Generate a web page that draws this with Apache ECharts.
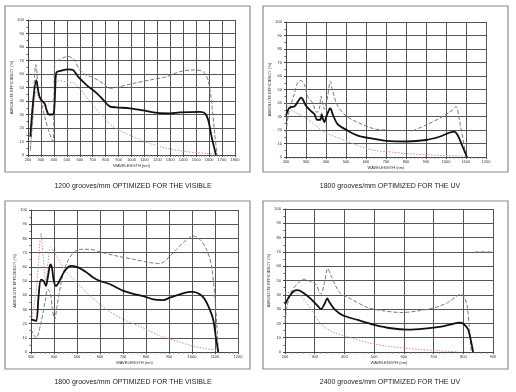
<!DOCTYPE html>
<html><head><meta charset="utf-8">
<script src="https://cdn.jsdelivr.net/npm/echarts@6/dist/echarts.min.js"></script>
<style>html,body{margin:0;padding:0;background:#fff}#c{width:516px;height:392px}</style>
</head><body><div id="c"></div>
<script>
// ---- titles ----
const titles = [
  "1200 grooves/mm OPTIMIZED FOR THE VISIBLE",
  "1800 grooves/mm OPTIMIZED FOR THE UV",
  "1800 grooves/mm OPTIMIZED FOR THE VISIBLE",
  "2400 grooves/mm OPTIMIZED FOR THE UV"
];
const yName = "ABSOLUTE EFFICIENCY (%)";
const xNames = ["WAVELENGTH [nm]", "WAVELENGTH (nm)", "WAVELENGTH (nm)", "WAVELENGTH (nm)"];
const xRanges = [[200, 1800], [200, 1200], [300, 1200], [200, 900]];

// ---- panel 1: 1200 g/mm visible ----
const p1Total = [[218,13.5],[240,40],[264,55.5],[278,48],[290,43],[310,40],[329,38],[345,33],[362,30],[388,30],[401,32],[410,48],[419,61],[458,62.5],[509,63.5],[548,63],[587,58],[651,52],[728,46],[780,41],[831,36],[883,35.3],[988,34.6],[1089,33],[1218,31],[1297,30.9],[1373,31.6],[1529,32],[1568,30.9],[1593,26],[1619,13.6],[1653,0]];
const p1Dashed = [[218,4],[235,25],[248,55],[260,67],[270,60],[277,49],[300,40],[330,28],[367,16],[393,10],[400,30],[406,68],[432,70],[509,73],[540,72],[561,70],[600,63],[651,59],[702,57.5],[780,53],[831,49.4],[883,50],[1012,53],[1141,55.5],[1270,58],[1373,61.7],[1476,63],[1553,61.7],[1592,55.5],[1617,40.7],[1643,16],[1661,0]];
const p1Dotted = [[218,3],[240,30],[262,47],[285,42],[330,36],[360,38],[385,40],[400,42],[415,53],[432,55],[509,54],[561,53],[651,43],[754,31],[857,21],[1012,13.6],[1141,8.6],[1270,5],[1424,2.5],[1579,1.2],[1643,0.7]];

// ---- panel 2: 1800 g/mm UV ----
const p2Total = [[200,30.5],[212,35.5],[225,37],[242,37.4],[267,42.8],[275,44],[283,43],[300,38],[325,34],[342,31.8],[355,27.6],[372,27.6],[378,31.8],[385,28],[392,25.7],[400,29.3],[417,35.5],[422,36],[433,31.8],[458,24.4],[508,19.6],[558,15.9],[642,13.4],[700,11.9],[808,11.5],[900,12.6],[967,15],[1040,18.8],[1058,16.3],[1083,7.6],[1105,0]];
const p2DashedA = [[200,18],[210,30],[217,35],[240,46],[258,55],[275,56.7],[292,53.8],[308,45],[333,40],[355,33],[367,36],[375,45],[383,40],[392,35.5],[408,45],[422,56],[433,49],[458,38],[500,30.5],[558,25.7],[642,20.8],[700,20]];
const p2DashedB = [[833,19.3],[900,23.7],[967,28.6],[1033,34.8],[1050,37.3],[1067,27.4],[1092,7.6],[1103,0]];
const p2Dotted = [[200,40],[217,36],[260,32],[308,28],[350,23],[392,18.3],[475,13.4],[558,8.6],[642,4.9],[725,3.7],[808,2.4],[892,1.7],[975,1.2],[1058,0.7],[1100,0.5]];

// ---- panel 3: 1800 g/mm visible ----
const p3Total = [[300,23],[312,22.5],[323,21.8],[333,39.4],[343,51],[355,50],[365,46.5],[374,53.5],[384,61.7],[391,59.4],[398,51.2],[408,46.5],[420,48.8],[442,55.9],[463,60],[478,60.6],[507,59.4],[543,55.9],[572,52.3],[601,50],[644,47.7],[702,43],[745,41],[788,39.4],[832,37],[875,36.6],[904,38.3],[947,40.6],[991,42.3],[1005,42.3],[1034,40.6],[1056,37],[1077,30],[1092,23],[1103,11.3],[1114,0]];
const p3Dashed = [[300,16],[312,12],[323,10],[340,18],[362,36],[372,44],[384,42],[394,29],[403,23],[413,32],[434,51],[456,63],[485,70],[514,72.3],[557,72.3],[601,70.4],[673,67.6],[745,65.3],[817,63],[861,62.2],[890,65.3],[933,72.3],[969,78],[1005,81.7],[1034,79.3],[1063,72.3],[1085,60.6],[1099,39.4],[1109,16],[1114,0]];
const p3Dotted = [[300,20.7],[319,39],[333,63],[343,83.6],[355,63],[365,49],[374,63],[384,73.5],[398,71],[427,63],[456,56],[499,49],[557,39.4],[629,30],[702,23],[788,17],[861,11.3],[933,7.7],[1005,4.2],[1063,2.3],[1106,1.4]];

// ---- panel 4: 2400 g/mm UV ----
const p4Total = [[200,33.4],[215,39],[231,42.8],[243,43.2],[260,41.6],[288,37],[310,32.2],[321,30],[333,33.6],[342,37.4],[349,35],[366,30],[394,25.7],[445,22.4],[501,19],[557,16.6],[613,15.7],[670,16.4],[726,17.8],[760,19.4],[788,20.6],[799,19.9],[816,15.9],[827,6.5],[833,0]];
const p4Dashed = [[200,20.6],[207,32],[220,41.6],[243,48],[265,51],[288,49],[304,47.4],[316,41.6],[321,40.4],[333,48.6],[344,58.4],[355,53.3],[384,41.6],[423,37],[479,31],[535,28.7],[591,27.6],[647,28.7],[703,31],[748,34.6],[782,39.7],[793,40.4],[804,38],[813,32.2],[821,15.9],[827,0]];
const p4Dotted = [[200,41.6],[231,41.6],[254,39],[288,30],[321,19.4],[366,13.6],[423,10],[479,6.5],[557,3.7],[647,1.9],[726,0.7],[782,0.2]];
const p4Mark = [[840,70],[900,70]];

const panels = [
  {grid:{left:28,top:20,width:207,height:135}, frame:[5,6,245,166], titleY:178, titleX:128,
   total:[p1Total], dashed:[p1Dashed], dotted:[p1Dotted]},
  {grid:{left:286,top:22,width:200,height:135}, frame:[263,6,245,166], titleY:178, titleX:385,
   total:[p2Total], dashed:[p2DashedA,p2DashedB], dotted:[p2Dotted]},
  {grid:{left:31,top:210,width:207,height:142}, frame:[5,201,245,168], titleY:374, titleX:128,
   total:[p3Total], dashed:[p3Dashed], dotted:[p3Dotted]},
  {grid:{left:285,top:209,width:208,height:143}, frame:[263,201,245,168], titleY:374, titleX:385,
   total:[p4Total], dashed:[p4Dashed,p4Mark], dotted:[p4Dotted]}
];

const grid = [], xAxis = [], yAxis = [], series = [], title = [], graphic = [];
const gridLine = {show:true, lineStyle:{color:'#555', width:1}};
const plain = v => String(v);
panels.forEach((p, i) => {
  grid.push(p.grid);
  xAxis.push({type:'value', gridIndex:i, min:xRanges[i][0], max:xRanges[i][1], interval:100,
    name:xNames[i], nameLocation:'middle', nameGap:9,
    nameTextStyle:{fontSize:4, color:'#333', fontFamily:'Liberation Sans'},
    axisLine:{show:true, onZero:false, lineStyle:{color:'#444', width:1}},
    axisTick:{show:true, length:2, lineStyle:{color:'#444'}},
    minorTick:{show:true, splitNumber:5, length:1.5, lineStyle:{color:'#666'}},
    axisLabel:{fontSize:4, color:'#333', margin:3, fontFamily:'Liberation Sans', formatter:plain},
    splitLine:gridLine});
  yAxis.push({type:'value', gridIndex:i, min:0, max:100, interval:10,
    name:yName, nameLocation:'middle', nameGap:11, nameRotate:90,
    nameTextStyle:{fontSize:4, color:'#333', fontFamily:'Liberation Sans'},
    axisLine:{show:true, lineStyle:{color:'#444', width:1}},
    axisTick:{show:true, length:2, lineStyle:{color:'#444'}},
    minorTick:{show:true, splitNumber:2, length:1.5, lineStyle:{color:'#666'}},
    axisLabel:{fontSize:4, color:'#333', margin:4, fontFamily:'Liberation Sans', formatter:plain},
    splitLine:gridLine});
  p.dotted.forEach(d => series.push({type:'line', xAxisIndex:i, yAxisIndex:i, data:d, symbol:'none', smooth:0.3,
    lineStyle:{color:'#d98c9e', width:1, type:[1.5,1.5]}, z:2}));
  p.dashed.forEach(d => series.push({type:'line', xAxisIndex:i, yAxisIndex:i, data:d, symbol:'none', smooth:0.3,
    lineStyle:{color:'#7a7a7a', width:1, type:[4,2]}, z:3}));
  p.total.forEach(d => series.push({type:'line', xAxisIndex:i, yAxisIndex:i, data:d, symbol:'none', smooth:0.3,
    lineStyle:{color:'#111', width:1.8}, z:4}));
  title.push({text:titles[i], left:p.titleX, top:p.titleY, textAlign:'center',
    textStyle:{fontSize:7, fontWeight:'normal', color:'#222', fontFamily:'Liberation Sans'}});
  graphic.push({type:'rect', shape:{x:p.frame[0], y:p.frame[1], width:p.frame[2], height:p.frame[3]},
    style:{fill:'none', stroke:'#8a8a8a', lineWidth:1.2}, silent:true, z:-1});
});

const chart = echarts.init(document.getElementById('c'), null, {renderer:'canvas'});
chart.setOption({animation:false, backgroundColor:'#fff', title, grid, xAxis, yAxis, series, graphic});
</script></body></html>
